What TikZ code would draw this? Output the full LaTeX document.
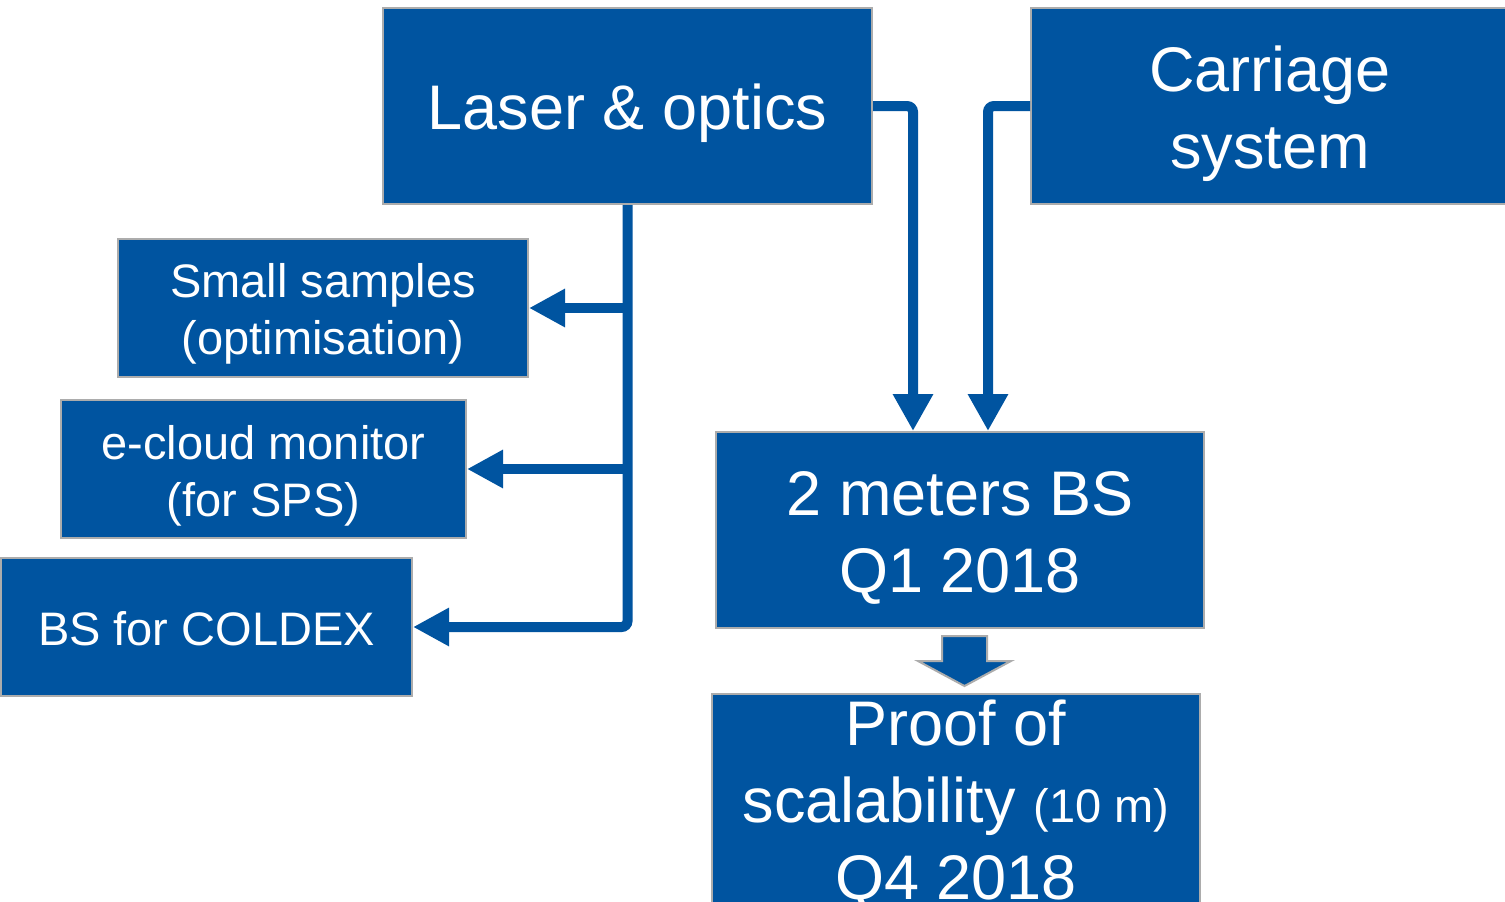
\documentclass[tikz,border=0pt]{standalone}
\usepackage{fontspec}
\setmainfont{Liberation Sans}
\usetikzlibrary{arrows.meta,calc}
\definecolor{cblue}{RGB}{0,84,160}
\definecolor{cgrey}{RGB}{172,172,172}
\begin{document}
\begin{tikzpicture}[x=1pt,y=-1pt,
  box/.style={draw=cgrey, line width=2pt, fill=cblue, inner sep=0pt},
  boxtext/.style={text=white, align=center, inner sep=0pt},
  bigtxt/.style={boxtext, font=\fontsize{63}{77}\selectfont},
  smalltxt/.style={boxtext, font=\fontsize{47}{57}\selectfont},
  conn/.style={draw=cblue, line width=10pt, rounded corners=6pt},
  tipleft/.style={-{Triangle[length=36pt,width=36pt]}},
  tipdown/.style={-{Triangle[length=37pt,width=38pt]}},
  blockarrow/.style={draw=cgrey, line width=2pt, fill=cblue},
]
\useasboundingbox (0,0) rectangle (1505,902);
\clip (0,0) rectangle (1505,902);
\fill[white] (0,0) rectangle (1505,902);

\node[box, minimum width=489pt, minimum height=196pt,
  label={[bigtxt, yshift=-7pt]center:Laser \& optics}] (laser) at (627.5,106) {};
\node[box, minimum width=478pt, minimum height=196pt,
  label={[bigtxt, yshift=-8pt]center:Carriage\\system}] (carr) at (1270,106) {};
\node[box, minimum width=410pt, minimum height=138pt,
  label={[smalltxt, yshift=-6pt]center:Small samples\\(optimisation)}] (small) at (323,308) {};
\node[box, minimum width=405pt, minimum height=138pt,
  label={[smalltxt, yshift=-7pt]center:e-cloud monitor\\(for SPS)}] (ecloud) at (263.5,469) {};
\node[box, minimum width=411pt, minimum height=138pt,
  label={[smalltxt, yshift=-2pt]center:BS for COLDEX}] (coldex) at (206.5,627) {};
\node[box, minimum width=488pt, minimum height=196pt,
  label={[bigtxt, yshift=-8pt]center:2 meters BS\\Q1 2018}] (bs2) at (960,530) {};
\node[box, minimum width=488pt, minimum height=218pt,
  label={[bigtxt, yshift=-3pt]center:Proof of\\scalability {\fontsize{47}{57}\selectfont(10 m)}\\Q4 2018}] (proof) at (956,803) {};

\draw[conn, tipleft] (laser.south) |- (coldex.east);
\draw[conn, tipleft] (laser.south |- small.east) -- (small.east);
\draw[conn, tipleft] (laser.south |- ecloud.east) -- (ecloud.east);
\draw[conn, tipdown] (laser.east) -| ([xshift=-47pt]bs2.north);
\draw[conn, tipdown] (carr.west) -| ([xshift=28pt]bs2.north);

\draw[blockarrow] (942,636) -- (987,636) -- (987,661) -- (1011,661) -- (964.5,686) -- (918,661) -- (942,661) -- cycle;
\end{tikzpicture}
\end{document}
